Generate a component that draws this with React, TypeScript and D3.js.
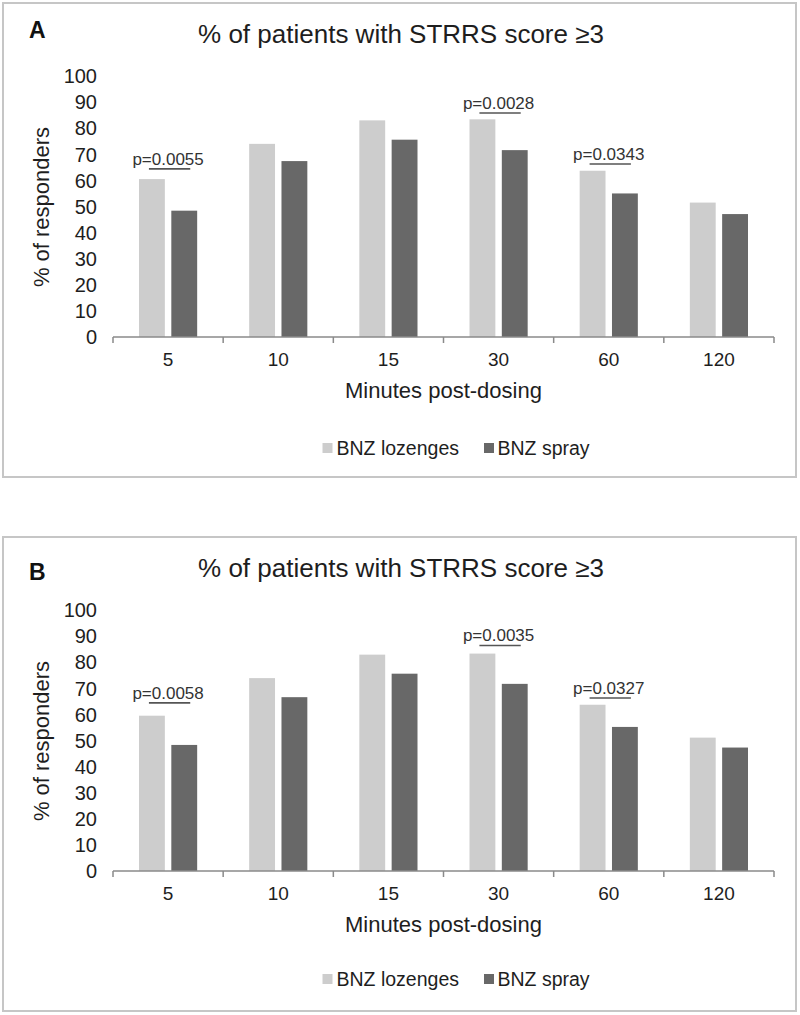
import React from "react";
import * as d3 from "d3";

const categories = ["5", "10", "15", "30", "60", "120"];
const seriesNames = ["BNZ lozenges", "BNZ spray"];
const yTicks = [0, 10, 20, 30, 40, 50, 60, 70, 80, 90, 100];

const lozengesA = [60.5, 74, 83, 83.4, 63.7, 51.5];
const sprayA = [48.4, 67.4, 75.6, 71.6, 55, 47.1];
const pCatsA = ["5", "30", "60"];
const pTextsA = ["p=0.0055", "p=0.0028", "p=0.0343"];
const pLevelsA = [64.4, 85.8, 66.3];

const lozengesB = [59.5, 73.9, 82.9, 83.3, 63.7, 51.1];
const sprayB = [48.3, 66.6, 75.6, 71.7, 55.2, 47.3];
const pCatsB = ["5", "30", "60"];
const pTextsB = ["p=0.0058", "p=0.0035", "p=0.0327"];
const pLevelsB = [64.4, 86.4, 66.3];

const COLORS = ["#cdcdcd", "#686868"];
const TEXT = "#1e1e1e";
const FONT = "'Liberation Sans', Arial, sans-serif";

type PanelProps = {
  label: string;
  offsetY: number;
  labelY: number;
  legendY: number;
  lozenges: number[];
  spray: number[];
  pCats: string[];
  pTexts: string[];
  pLevels: number[];
};

function Panel(props: PanelProps) {
  const { label, offsetY, labelY, legendY, lozenges, spray, pCats, pTexts, pLevels } = props;
  const y = d3.scaleLinear().domain([0, 100]).range([337, 76]);
  const x = d3.scaleBand<string>().domain(categories).range([113, 774]).padding(0);
  const bw = x.bandwidth();
  const inner = d3
    .scaleBand<string>()
    .domain(seriesNames)
    .range([bw * 0.236, bw * 0.764])
    .paddingInner(0.2)
    .paddingOuter(0);
  const ib = inner.bandwidth();
  const series = [lozenges, spray];
  const boundaries = categories.map((c) => x(c) as number).concat([x.range()[1]]);

  return (
    <g transform={`translate(0,${offsetY})`}>
      <rect x={3} y={3} width={793} height={474} fill="#fff" stroke="#c6c6c6" strokeWidth={2} />
      <text x={29} y={labelY} fontFamily={FONT} fontWeight="bold" fontSize={23} fill="#111">
        {label}
      </text>
      <text x={401} y={43} textAnchor="middle" fontFamily={FONT} fontSize={26} fill={TEXT}>
        % of patients with STRRS score ≥3
      </text>
      {/* y tick labels */}
      {yTicks.map((t) => (
        <text
          key={t}
          x={97}
          y={y(t)}
          dy="0.36em"
          textAnchor="end"
          fontFamily={FONT}
          fontSize={20}
          fill={TEXT}
        >
          {t}
        </text>
      ))}
      {/* y axis title */}
      <text
        transform={`translate(49,207) rotate(-90)`}
        textAnchor="middle"
        fontFamily={FONT}
        fontSize={22}
        fill={TEXT}
      >
        % of responders
      </text>
      {/* bars */}
      {series.map((vals, si) =>
        vals.map((v, ci) => (
          <rect
            key={`${si}-${ci}`}
            x={(x(categories[ci]) as number) + (inner(seriesNames[si]) as number)}
            y={y(v)}
            width={ib}
            height={y(0) - y(v)}
            fill={COLORS[si]}
          />
        ))
      )}
      {/* x axis */}
      <line x1={x.range()[0]} x2={x.range()[1]} y1={y(0)} y2={y(0)} stroke="#8a8a8a" strokeWidth={1.5} />
      {boundaries.map((b, i) => (
        <line key={i} x1={b} x2={b} y1={y(0)} y2={y(0) + 6} stroke="#8a8a8a" strokeWidth={1.5} />
      ))}
      {categories.map((c) => (
        <text
          key={c}
          x={(x(c) as number) + bw / 2}
          y={366}
          textAnchor="middle"
          fontFamily={FONT}
          fontSize={19}
          fill={TEXT}
        >
          {c}
        </text>
      ))}
      <text x={443.5} y={398} textAnchor="middle" fontFamily={FONT} fontSize={22} fill={TEXT}>
        Minutes post-dosing
      </text>
      {/* p-value annotations */}
      {pCats.map((c, i) => {
        const x0 = x(c) as number;
        const l1 = x0 + (inner(seriesNames[0]) as number) + ib / 2 - 3;
        const l2 = x0 + (inner(seriesNames[1]) as number) + ib / 2 + 6;
        const ly = y(pLevels[i]);
        return (
          <g key={c}>
            <line x1={l1} x2={l2} y1={ly} y2={ly} stroke="#555" strokeWidth={1.6} />
            <text
              x={x0 + bw / 2}
              y={ly - 4}
              textAnchor="middle"
              fontFamily={FONT}
              fontSize={17}
              fill="#333"
            >
              {pTexts[i]}
            </text>
          </g>
        );
      })}
      {/* legend */}
      <rect x={322.5} y={legendY - 12} width={10} height={10} fill={COLORS[0]} />
      <text x={336.5} y={legendY} fontFamily={FONT} fontSize={19.5} fill={TEXT}>
        {seriesNames[0]}
      </text>
      <rect x={484} y={legendY - 12} width={10} height={10} fill={COLORS[1]} />
      <text x={497.5} y={legendY} fontFamily={FONT} fontSize={19.5} fill={TEXT}>
        {seriesNames[1]}
      </text>
    </g>
  );
}

export default function App() {
  return (
    <svg
      width={800}
      height={1015}
      style={{ position: "absolute", left: 0, top: 0, display: "block", background: "#fff" }}
    >
      <rect x={0} y={0} width={800} height={1015} fill="#fff" />
      <Panel
        label="A"
        offsetY={0}
        labelY={38}
        legendY={455}
        lozenges={lozengesA}
        spray={sprayA}
        pCats={pCatsA}
        pTexts={pTextsA}
        pLevels={pLevelsA}
      />
      <Panel
        label="B"
        offsetY={534}
        labelY={46}
        legendY={452}
        lozenges={lozengesB}
        spray={sprayB}
        pCats={pCatsB}
        pTexts={pTextsB}
        pLevels={pLevelsB}
      />
    </svg>
  );
}
